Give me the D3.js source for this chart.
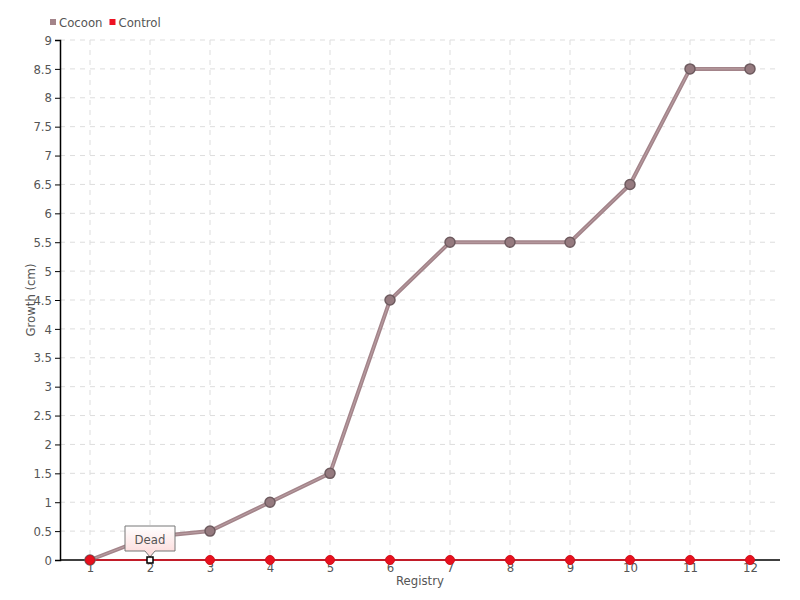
<!DOCTYPE html>
<html><head><meta charset="utf-8">
<script src="https://cdn.jsdelivr.net/npm/d3@7"></script>
<style>
body{margin:0;background:#fff;}
text{font-family:"DejaVu Sans Condensed","Roboto",sans-serif;}
</style></head><body>
<svg id="c" width="800" height="600"></svg>
<script>
const categories = ["1","2","3","4","5","6","7","8","9","10","11","12"];
const cocoon = [0,0.4,0.5,1,1.5,4.5,5.5,5.5,5.5,6.5,8.5,8.5];
const control = [0,0,0,0,0,0,0,0,0,0,0,0];
const yTicks = [0,0.5,1,1.5,2,2.5,3,3.5,4,4.5,5,5.5,6,6.5,7,7.5,8,8.5,9];
const seriesNames = ["Cocoon","Control"];
const annotations = [{index:1, series:"Control", label:"Dead"}];

const svg = d3.select("#c");
const L=60,R=780,T=40,B=560;
const x = d3.scalePoint().domain(categories).range([L,R]).padding(0.5);
const y = d3.scaleLinear().domain([0,9]).range([B,T]);
const textCol="#555";
const fs=13;

// grid
const g = svg.append("g");
g.selectAll(".hg").data(yTicks.slice(1)).join("line")
 .attr("x1",L).attr("x2",R).attr("y1",d=>y(d)).attr("y2",d=>y(d))
 .attr("stroke","#ddd").attr("stroke-dasharray","5,5");
g.selectAll(".vg").data(categories).join("line")
 .attr("x1",d=>x(d)).attr("x2",d=>x(d)).attr("y1",T).attr("y2",B)
 .attr("stroke","#ddd").attr("stroke-dasharray","5,5");

// y axis
const ya = svg.append("g").attr("transform",`translate(${L},0)`)
 .call(d3.axisLeft(y).tickValues(yTicks).tickSize(5).tickPadding(3).tickFormat(d3.format("")));
ya.attr("font-family",null);
ya.select(".domain").attr("stroke","#000").attr("stroke-width",1.5);
ya.selectAll(".tick line").attr("stroke","#000");
ya.selectAll("text").attr("fill",textCol).attr("font-size",fs);

// x axis
const xa = svg.append("g").attr("transform",`translate(0,${B})`)
 .call(d3.axisBottom(x).tickSize(0).tickPadding(3));
xa.attr("font-family",null);
xa.select(".domain").attr("d",`M${L},0H${R}`).attr("stroke","#000").attr("stroke-width",1.5);
xa.selectAll("text").attr("fill",textCol).attr("font-size",fs);

// axis titles
svg.append("text").attr("x",(L+R)/2).attr("y",585).attr("text-anchor","middle")
 .attr("fill",textCol).attr("font-size",fs).text("Registry");
svg.append("text").attr("transform",`translate(35,${(T+B)/2}) rotate(-90)`).attr("text-anchor","middle")
 .attr("fill",textCol).attr("font-size",fs).text("Growth (cm)");

// lines
const line = d3.line().x((d,i)=>x(categories[i])).y(d=>y(d));
svg.append("path").datum(cocoon).attr("d",line).attr("fill","none")
 .attr("stroke","#a3848a").attr("stroke-width",4);
svg.append("path").datum(cocoon).attr("d",line).attr("fill","none")
 .attr("stroke","#c9b0b4").attr("stroke-width",1).attr("opacity",0.6);
svg.append("path").datum(control).attr("d",line).attr("fill","none")
 .attr("stroke","#ee1122").attr("stroke-width",1.5);

// markers
svg.selectAll(".cm").data(cocoon).join("circle")
 .attr("cx",(d,i)=>x(categories[i])).attr("cy",d=>y(d)).attr("r",5)
 .attr("fill","#957a7f").attr("stroke","#6e5b5f").attr("stroke-width",1.5);
const dead = new Set(annotations.map(a=>a.index));
svg.selectAll(".rm").data(control.map((v,i)=>({v,i})).filter(d=>!dead.has(d.i))).join("circle")
 .attr("cx",d=>x(categories[d.i])).attr("cy",d=>y(d.v)).attr("r",4.5)
 .attr("fill","#e8101e").attr("stroke","#d0101a").attr("stroke-width",1);

// annotations
const defs = svg.append("defs");
const grad = defs.append("linearGradient").attr("id","tg").attr("x1",0).attr("y1",0).attr("x2",0).attr("y2",1);
grad.append("stop").attr("offset","0%").attr("stop-color","#ffffff");
grad.append("stop").attr("offset","100%").attr("stop-color","#fcd8d8");
annotations.forEach(a=>{
  const px=x(categories[a.index]), py=y(control[a.index]);
  svg.append("path")
   .attr("d",`M${px-25},${py-34}H${px+25}V${py-9}H${px+5}L${px},${py-3}L${px-5},${py-9}H${px-25}Z`)
   .attr("fill","url(#tg)").attr("stroke","#777").attr("stroke-width",1);
  svg.append("text").attr("x",px).attr("y",py-16).attr("text-anchor","middle")
   .attr("fill","#555").attr("font-size",fs).text(a.label);
  svg.append("rect").attr("x",px-3).attr("y",py-3).attr("width",6).attr("height",6)
   .attr("fill","#fff").attr("stroke","#000").attr("stroke-width",1.5);
});

// legend
const legCols=["#a3848a","#ee1122"];
let lx=50;
seriesNames.forEach((s,i)=>{
  svg.append("rect").attr("x",lx).attr("y",19).attr("width",6).attr("height",6).attr("fill",legCols[i]);
  const t=svg.append("text").attr("x",lx+9).attr("y",27).attr("fill",textCol).attr("font-size",fs).text(s);
  lx += 9 + t.node().getComputedTextLength() + 7;
});
</script></body></html>
